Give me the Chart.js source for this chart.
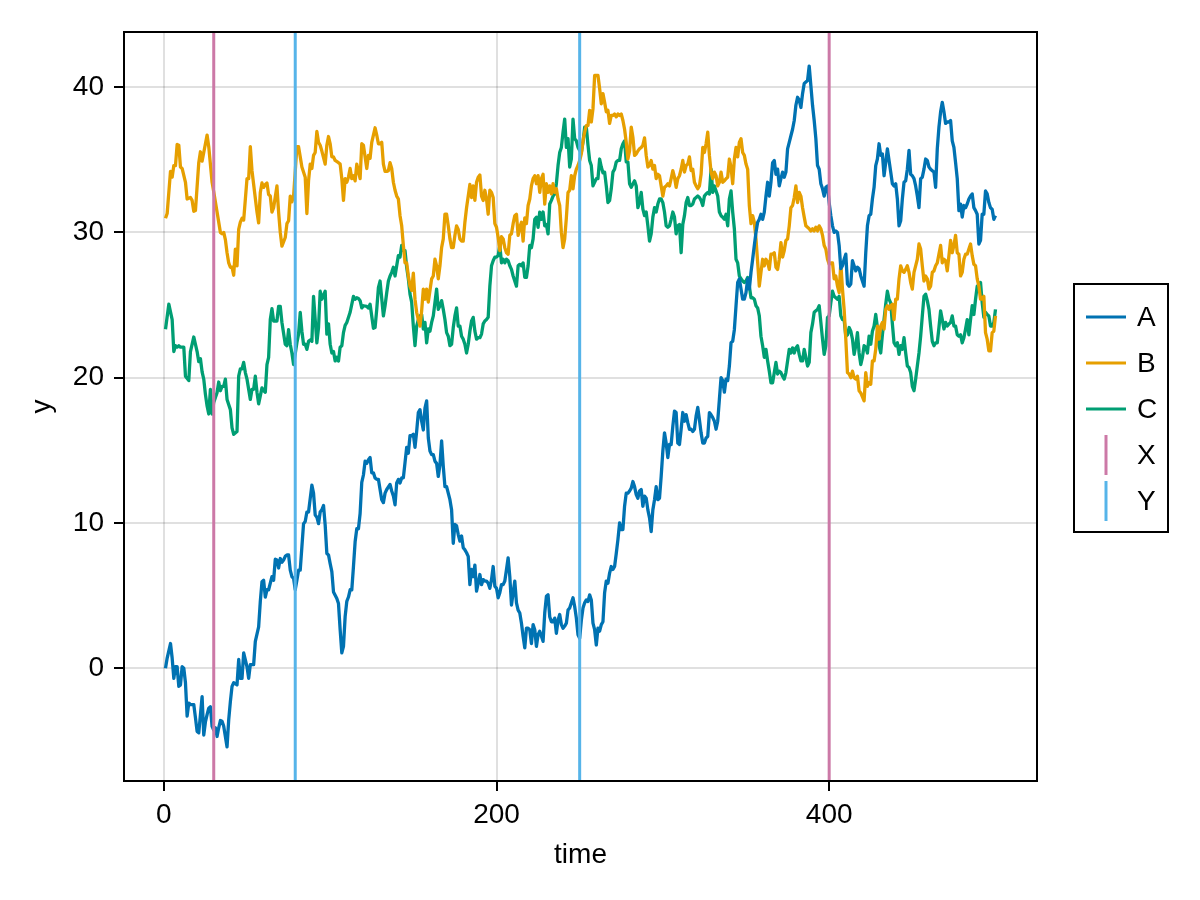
<!DOCTYPE html>
<html>
<head>
<meta charset="utf-8">
<script src="https://cdn.jsdelivr.net/npm/chart.js@4.4.1/dist/chart.umd.min.js"></script>
<style>
  html, body { margin: 0; padding: 0; background: #fff; }
  #wrap { width: 1200px; height: 900px; }
</style>
</head>
<body>
<div id="wrap"><canvas id="myChart" width="1200" height="900"></canvas></div>
<script>
// values, [time, value]
const seriesA = [
  [1,0.0],[2,0.7],[4,1.7],[5,0.7],[6,-0.7],[7,0.1],[8,0.1],[9,-1.25],[10,-1.15],[11,0.1],[12,0.0],[13,-1.0],[14,-3.3],[15,-2.4],[16,-2.5],[18,-2.5],[19,-3.4],[20,-4.35],[21,-4.45],[23,-1.95],[24,-4.6],[25,-3.7],[26,-3.2],[27,-2.75],[28,-2.65],[29,-4.0],[30,-4.25],[31,-4.1],[32,-4.7],[33,-4.1],[34,-3.6],[35,-3.65],[36,-4.0],[38,-5.42],[39,-3.55],[40,-2.3],[41,-1.25],[42,-1.0],[44,-1.15],[45,0.6],[46,-0.7],[47,-0.7],[48,1.05],[50,0.1],[51,-0.7],[52,0.25],[54,0.25],[55,1.85],[57,2.85],[58,4.6],[59,5.95],[60,6.05],[61,4.9],[62,5.4],[63,5.4],[65,6.3],[66,6.05],[67,7.5],[68,7.45],[69,6.9],[70,7.55],[71,7.3],[72,7.45],[73,7.7],[74,7.8],[75,7.8],[76,6.75],[77,6.3],[78,6.2],[79,5.4],[80,6.05],[81,6.75],[82,6.75],[83,8.35],[84,9.95],[85,10.1],[86,10.75],[87,10.75],[89,12.6],[90,12.05],[91,10.55],[92,10.4],[93,9.95],[94,10.75],[95,10.9],[96,11.2],[97,9.85],[98,7.9],[99,7.8],[100,7.2],[101,6.65],[102,5.25],[104,4.8],[105,4.45],[106,2.65],[107,1.05],[108,1.5],[109,3.55],[110,4.6],[111,4.9],[112,5.4],[113,5.4],[114,7.0],[115,8.7],[116,9.6],[117,9.6],[118,10.65],[119,12.8],[120,13.3],
  [121,14.25],[122,14.1],[123,14.35],[124,14.5],[125,13.45],[126,13.45],[127,13.1],[128,13.0],[129,13.0],[130,12.3],[131,11.6],[132,11.4],[133,12.05],[134,12.3],[136,12.65],[137,12.2],[138,11.85],[139,11.25],[140,12.75],[141,13.0],[142,12.75],[143,13.1],[144,13.1],[145,14.15],[146,15.2],[147,14.8],[148,16.0],[149,16.0],[150,16.1],[151,15.2],[152,16.3],[153,17.6],[154,17.8],[155,17.0],[156,16.4],[157,17.9],[158,18.4],[159,15.85],[160,14.95],[161,14.7],[162,14.7],[163,14.25],[164,14.1],[165,13.2],[166,14.0],[167,15.65],[168,13.9],[169,12.5],[170,12.5],[171,12.05],[172,11.6],[173,10.9],[174,8.6],[175,9.9],[176,9.8],[177,9.2],[178,8.75],[179,9.1],[180,8.3],[181,8.15],[182,7.95],[183,7.7],[184,5.75],[185,6.8],[186,6.3],[187,7.1],[188,5.3],[189,5.85],[190,6.45],[191,5.75],[192,6.1],[193,6.0],[194,6.0],[195,5.85],[196,5.5],[197,6.1],[198,7.0],[199,5.65],[200,5.5],[201,4.85],[202,5.2],[203,5.75],[204,5.75],[205,6.0],[206,6.8],[207,7.6],[208,6.3],[209,4.35],[210,5.2],[211,6.0],[212,4.5],[213,4.0],[214,3.8],[215,3.1],[216,2.2],[217,1.4],[218,2.75],[219,2.75],[220,2.65],[221,1.7],[222,3.0],[223,2.65],[224,1.5],[225,2.3],[226,2.55],[227,2.2],[228,1.85],[229,3.8],[230,4.95],[231,5.05],[232,3.55],[233,3.2],[234,3.2],[235,3.45],[236,2.4],[237,3.3],[238,3.7],[239,3.0],[240,2.75],[241,2.9],[242,3.1],[243,4.0],[244,4.15],[245,4.5],[246,4.85],[247,4.25],[248,3.45],[249,2.3],[250,2.05],[251,3.3],[252,4.15],[253,4.5],[254,4.7],[255,4.6],[256,5.05],[257,4.7],[258,3.1],[259,2.65],[260,1.6],[261,2.75],[262,2.55],[263,3.0],[264,3.2],
  [265,5.2],[266,6.0],[267,5.85],[268,6.55],[269,7.0],[270,6.8],[271,7.0],[272,7.9],[273,8.85],[274,10.0],[275,9.55],[276,9.55],[277,11.15],[278,12.05],[279,12.05],[280,12.2],[281,12.4],[282,12.85],[283,12.5],[284,11.95],[285,11.7],[286,12.2],[287,12.3],[288,11.15],[289,11.85],[290,11.7],[291,10.9],[292,10.35],[293,9.4],[294,10.9],[295,11.6],[296,12.5],[297,11.6],[298,11.7],[299,13.2],[300,14.95],[301,16.2],[302,15.5],[303,14.5],[304,15.4],[305,15.4],[306,16.65],[307,17.7],[308,17.6],[309,15.5],[310,15.4],[311,16.45],[312,17.6],[313,17.0],[314,17.45],[315,16.9],[316,16.45],[317,16.45],[318,16.3],[319,16.45],[320,17.35],[321,17.95],[322,17.1],[323,16.2],[324,15.5],[325,15.5],[326,15.85],[327,15.95],[328,17.6],[329,17.45],[330,17.25],[331,17.0],[332,16.45],[333,17.0],[334,18.5],[335,20.0],
  [336,19.8],[337,19.0],[338,19.9],[339,19.8],[340,20.8],[341,22.4],[342,22.5],[343,23.3],[344,24.95],[345,26.55],[346,26.8],[347,26.1],[348,25.4],[349,25.4],[350,25.85],[351,26.8],[352,26.1],[353,27.25],[354,28.15],[355,29.1],[356,30.0],[357,30.7],[358,30.9],[359,31.25],[360,30.9],[361,31.4],[362,32.5],[363,33.45],[364,32.5],[365,33.45],[366,34.8],[367,34.95],[368,34.0],[369,34.35],[370,33.2],[371,33.7],[372,34.15],[373,33.8],[374,34.15],[375,35.75],[376,36.2],[377,36.65],[378,37.1],[379,37.7],[380,38.75],[381,39.3],[382,39.1],[383,38.6],[384,39.55],[385,40.25],[386,40.35],[387,40.45],[388,41.45],[389,40.1],[390,38.75],[391,37.7],[392,36.45],[393,34.6],[394,34.35],[395,33.35],[396,33.0],[397,32.5],[398,33.1],[399,33.2],[400,32.05],[401,31.15],[402,30.45],
  [403,30.0],[404,30.1],[405,30.0],[406,29.1],[407,27.5],[408,27.7],[409,28.15],[410,28.5],[411,26.45],[412,26.3],[413,26.45],[414,28.05],[415,27.7],[416,27.35],[417,27.6],[418,27.5],[419,27.0],[421,26.3],[422,28.6],[423,30.45],[424,31.15],[425,31.25],[426,32.3],[427,33.1],[428,34.6],[429,35.05],[430,36.1],[431,35.3],[432,35.4],[433,33.9],[434,34.8],[435,35.75],[436,34.95],[437,34.15],[438,33.35],[439,33.2],[440,33.35],[441,32.3],[442,30.45],[443,30.8],[444,32.3],[445,33.45],[446,33.55],[447,34.35],[448,35.65],[449,34.0],[450,33.9],[451,33.7],[452,33.2],[453,32.5],[454,31.7],[455,33.7],[456,33.8],[457,34.35],[458,35.05],[459,34.95],[460,34.5],[461,34.35],[462,34.25],[463,34.15],[464,33.1],[465,35.75],[466,37.25],[467,38.3],[468,38.95],[469,38.3],[470,37.5],[471,37.6],[472,37.6],[473,37.7],[474,36.3],[475,35.85],[476,34.8],[477,33.7],[478,31.5],[479,31.95],[480,31.05],[481,31.85],[482,31.7],[483,31.95],[484,32.3],[485,32.5],[486,32.65],[487,31.7],[488,31.5],[489,31.25],[490,29.2],[491,29.45],[492,31.25],[493,31.25],[494,32.85],[495,32.65],[496,32.05],[497,31.7],[498,31.6],[499,30.9],[500,31.15]
];
const seriesB = [
  [1,30.97],[2,31.3],[4,34.2],[5,33.8],[6,34.6],[7,34.6],[8,36.05],[9,36.0],[10,34.5],[11,34.4],[13,33.45],[14,32.3],[16,32.4],[17,32.2],[18,31.45],[19,31.5],[21,34.8],[22,35.55],[23,34.9],[24,35.5],[26,36.7],[27,35.9],[29,33.45],[30,32.8],[32,31.4],[34,30.0],[35,29.9],[36,30.0],[37,29.5],[38,28.6],[39,27.9],[40,27.6],[41,27.6],[42,27.05],[43,28.85],[44,27.7],[45,30.2],[46,30.7],[47,30.97],[48,30.85],[50,33.7],[51,33.7],[52,35.9],[53,34.25],[54,33.3],[56,31.4],[57,30.65],[58,32.75],[59,33.4],[60,33.1],[61,33.3],[62,33.4],[63,32.6],[64,32.5],[65,31.4],[66,31.7],[68,33.2],[69,31.4],[70,30.0],[71,29.05],[73,29.65],[74,30.6],[75,30.8],[76,32.5],[77,32.1],[78,32.5],[80,35.9],[81,35.9],[82,35.2],[83,34.5],[85,33.8],[86,31.3],[87,33.55],[88,34.7],[89,34.4],[90,35.3],[91,35.5],[92,36.95],[93,36.2],[94,36.0],[95,35.6],[97,34.7],[98,36.0],[99,36.6],[100,36.1],[101,35.2],[102,35.2],[103,34.95],[105,34.8],[106,34.7],[107,33.7],[108,32.2],[109,33.7],[110,33.45],[111,33.8],[112,34.4],[113,33.7],[114,33.9],[115,33.55],[116,34.7],[118,33.7],[119,36.1],
  [120,36.0],[122,34.4],[123,35.3],[124,35.1],[125,36.2],[127,37.2],[128,36.7],[129,36.1],[130,36.1],[131,36.2],[132,34.7],[133,34.2],[134,34.2],[135,34.25],[136,34.8],[137,34.4],[138,33.45],[139,32.9],[140,32.5],[141,32.3],[142,31.15],[143,30.45],[144,29.1],[145,27.9],[146,27.9],[147,27.0],[148,26.3],[149,26.0],[150,27.2],[151,25.4],[152,24.5],[153,24.0],[154,23.55],[155,24.6],[156,26.1],[157,25.4],[158,26.1],[159,25.2],[160,26.0],[161,26.8],[162,27.0],[163,28.15],[164,27.7],[165,26.8],[166,27.7],[167,28.95],[168,29.55],[169,31.25],[170,31.25],[171,30.45],[172,29.55],[173,28.95],[174,28.95],[175,29.8],[176,30.45],[177,30.2],[178,29.55],[179,29.4],[180,29.4],[181,30.7],[182,31.7],[184,33.3],[185,32.4],[186,33.2],[187,32.2],[188,33.45],[189,33.8],[190,33.95],[191,32.5],[192,32.2],[193,32.9],[194,32.3],[195,31.25],[196,32.9],[197,32.75],[198,32.4],[199,30.6],[200,30.35],[201,29.65],[202,28.75],[203,29.7],[204,29.55],[205,28.95],[206,28.6],[207,28.5],[208,29.8],[209,29.9],[210,30.6],[211,31.15],[212,31.25],[213,29.8],[214,30.35],[215,30.7],[216,29.4],[217,31.0],[218,30.6],[219,31.85],[220,32.3],[221,33.2],[222,33.7],[223,33.9],[224,33.35],[225,33.9],[226,32.75],[227,33.7],[228,34.0],[229,31.95],[230,33.35],[231,32.75],[232,33.2],[233,32.65],[234,33.35],[235,32.75],[236,33.0],[237,32.3],[238,31.85],[239,30.0],[240,28.95],[241,29.55],[242,31.0],[243,32.75],[244,32.9],[245,33.9],[246,33.0],[247,33.9],[248,34.35],[249,34.6],[250,34.95],[251,35.4],[252,36.3],[253,36.9],[254,37.35],[255,37.35],[256,38.4],[257,37.6],[258,38.5],[259,40.8],[261,40.8],[262,39.9],[263,38.85],
  [264,39.55],[265,38.95],[266,38.3],[267,38.4],[268,37.5],[269,38.05],[270,38.05],[271,38.15],[272,37.95],[273,38.15],[274,38.05],[275,38.15],[276,37.7],[277,37.1],[278,36.2],[279,35.05],[280,35.6],[281,37.25],[282,36.55],[283,35.3],[284,35.4],[285,35.6],[286,35.75],[287,35.85],[288,36.0],[289,36.5],[290,35.3],[291,34.5],[292,34.6],[293,34.95],[294,34.35],[295,34.6],[296,33.7],[297,34.0],[298,33.9],[299,33.2],[300,32.5],[301,33.1],[302,33.2],[303,33.35],[304,33.2],[305,33.7],[306,34.25],[307,33.8],[308,33.1],[309,33.7],[310,33.9],[311,34.35],[312,34.95],[313,34.15],[314,34.6],[315,34.7],[316,35.2],[317,34.25],[318,34.35],[319,33.45],[320,33.2],[321,33.0],[322,33.2],[323,34.0],[324,35.85],[325,35.5],[326,36.1],[327,36.9],[328,35.3],[329,34.15],[330,33.7],[331,34.15],[332,33.9],[333,33.2],[334,33.45],[335,34.15],[336,33.45],[337,33.55],[338,33.7],[339,33.8],[340,35.05],[341,34.5],[342,33.35],[343,35.05],[344,35.85],[345,35.2],[346,36.2],[347,36.45],[348,35.5],[349,35.3],[350,34.7],[351,34.35],[352,31.85],[353,30.6],[354,31.15],[355,30.7],[356,29.55],[357,27.95],[358,26.3],[359,27.25],[360,28.15],[361,27.7],[362,28.15],[363,27.95],[364,27.45],[365,28.5],[366,28.5],[367,28.6],[368,27.6],[369,27.45],[370,28.15],[371,29.3],[372,28.3],[373,28.75],[374,29.45],[375,29.55],[376,30.45],[377,31.7],[378,31.85],[379,32.4],[380,33.2],[381,32.05],[382,32.75],[383,32.5],[384,31.7],[385,31.05],[386,30.45],[387,30.35],[388,30.25],[389,30.1],[390,30.25],[391,30.1],[392,30.35],[393,30.1],[394,30.45],[395,30.25],[396,29.8],[397,29.1],[398,28.85],[399,28.15],[400,27.8],[401,27.9],[402,27.9],
  [403,26.8],[404,27.0],[405,26.3],[406,25.85],[407,27.9],[408,26.1],[409,24.7],[410,22.65],[411,20.35],[412,20.25],[413,20.0],[414,20.45],[415,20.0],[416,19.9],[417,20.1],[418,19.1],[419,18.95],[421,18.4],[422,20.35],[423,19.4],[424,19.65],[425,19.55],[426,21.15],[427,21.15],[428,21.95],[429,23.55],[430,22.65],[431,23.55],[432,23.8],[433,23.35],[434,24.7],[435,24.95],[436,24.7],[437,24.95],[438,25.05],[439,24.0],[440,25.4],[441,25.4],[442,26.8],[443,27.7],[444,27.35],[445,27.25],[446,27.45],[447,27.7],[448,27.25],[449,26.55],[450,26.1],[451,27.25],[452,27.7],[453,28.15],[454,29.2],[455,28.85],[456,27.7],[457,26.65],[458,27.0],[459,26.8],[460,26.1],[461,26.3],[462,27.25],[463,27.35],[464,27.7],[465,27.9],[466,28.5],[467,29.1],[468,27.9],[469,28.15],[470,28.05],[471,27.35],[472,28.4],[473,29.45],[474,28.6],[475,29.1],[476,29.8],[477,28.6],[478,28.5],[479,27.0],[480,27.25],[481,28.15],[482,28.5],[483,28.5],[484,28.85],[485,29.2],[486,28.4],[487,27.8],[488,27.7],[489,26.8],[490,26.3],[491,25.4],[492,25.4],[493,25.6],[494,23.1],[495,22.65],[496,21.85],[497,21.85],[498,23.1],[499,23.2],[500,24.25]
];
const seriesC = [
  [1,23.33],[3,25.06],[5,24.0],[6,21.8],[7,22.2],[8,22.1],[9,22.2],[10,22.1],[12,22.1],[13,20.1],[15,19.8],[16,21.8],[18,22.8],[19,22.3],[20,21.8],[21,21.1],[22,21.3],[23,20.4],[24,19.9],[25,18.85],[26,18.05],[27,17.5],[28,19.2],[29,17.5],[30,18.3],[32,18.97],[33,19.7],[34,19.1],[35,19.4],[36,19.4],[37,19.9],[38,18.5],[40,17.8],[41,16.55],[42,16.1],[44,16.3],[45,20.1],[46,20.6],[47,20.6],[48,21.05],[49,20.35],[50,19.9],[52,18.5],[53,19.2],[54,19.2],[55,20.1],[56,19.0],[57,18.2],[58,18.75],[59,19.3],[60,19.1],[61,19.0],[62,20.9],[63,21.4],[64,24.0],[65,24.75],[66,23.9],[68,23.9],[69,24.9],[70,24.9],[71,23.8],[73,22.3],[74,22.2],[75,23.3],[76,22.3],[77,21.7],[78,20.9],[80,22.4],[81,23.0],[82,24.5],[83,23.2],[84,22.3],[85,22.3],[86,21.95],[87,22.5],[88,22.6],[89,22.5],[90,25.6],[92,22.4],[93,23.45],[94,25.95],[95,25.4],[97,25.95],[98,23.0],[99,23.7],[100,22.3],[101,21.7],[102,21.8],[103,21.15],[104,21.4],[105,21.15],[106,22.1],[107,22.2],[108,23.1],[109,23.6],[110,23.8],[112,24.5],[114,25.6],[115,25.4],[116,25.5],[117,25.45],[118,25.3],[119,24.8],
  [120,24.95],[122,24.9],[123,24.8],[124,25.05],[126,23.4],[127,23.45],[128,24.7],[129,26.2],[130,26.65],[132,24.25],[133,24.95],[134,25.85],[135,26.65],[136,27.0],[137,27.25],[138,27.6],[139,27.0],[140,27.7],[141,28.4],[142,28.3],[143,29.1],[144,28.75],[145,28.75],[146,27.6],[147,26.8],[148,25.75],[149,25.2],[150,23.55],[151,22.2],[152,23.55],[153,24.0],[154,24.25],[155,24.35],[156,23.35],[157,23.8],[158,22.4],[159,23.35],[160,23.2],[161,23.8],[162,24.25],[164,26.1],[165,24.7],[166,24.95],[167,25.3],[168,24.7],[169,24.0],[170,23.1],[171,22.85],[172,22.2],[173,22.3],[174,23.45],[175,24.25],[176,24.8],[177,23.55],[178,23.55],[179,22.85],[180,22.65],[181,22.3],[182,21.7],[183,22.3],[184,23.2],[185,23.9],[186,24.15],[187,23.2],[188,22.65],[189,22.75],[190,22.75],[191,23.0],[192,23.7],[193,23.9],[194,24.0],[195,24.15],[196,26.3],[197,27.7],[198,28.05],[199,28.3],[200,28.3],[201,28.4],[202,29.1],[203,27.9],[204,28.15],[205,27.9],[206,28.15],[207,28.05],[208,27.7],[209,27.45],[210,27.0],[212,26.3],[213,27.7],[214,27.8],[215,27.7],[216,27.9],[217,26.9],[218,26.9],[219,27.7],[220,29.1],[221,28.95],[222,29.55],[223,30.9],[224,31.05],[225,30.35],[226,31.4],[227,30.9],[228,31.4],[229,30.45],[230,30.55],[231,29.9],[232,31.95],[233,32.2],[234,32.5],[235,32.65],[236,33.35],[237,34.6],[238,35.5],[239,35.85],[240,36.9],[241,37.8],[242,35.85],[243,36.45],[244,34.5],[245,35.05],[246,37.8],[247,36.45],[248,36.3],[249,35.85],[250,35.65],[251,35.5],[252,36.2],[253,37.25],[254,37.25],[255,36.0],[256,34.95],[257,34.6],[258,33.2],[260,33.7],[261,33.7],[262,35.05],[263,34.5],[264,34.1],
  [265,34.15],[266,33.2],[267,32.05],[268,32.2],[269,33.0],[270,34.15],[271,34.35],[272,34.85],[273,34.95],[274,34.95],[275,35.75],[276,36.1],[277,36.3],[278,34.85],[279,34.85],[280,33.35],[281,33.1],[282,33.35],[283,33.55],[284,33.2],[285,31.7],[286,32.05],[287,32.75],[288,31.6],[289,31.15],[290,31.4],[291,30.45],[292,29.4],[293,29.9],[294,31.05],[295,31.7],[296,31.4],[297,31.95],[298,32.3],[299,32.3],[300,32.05],[301,31.4],[302,30.45],[303,30.35],[304,30.45],[305,30.9],[306,31.4],[307,31.05],[308,29.9],[309,30.45],[310,30.55],[311,28.6],[312,30.55],[313,31.15],[314,32.05],[315,32.4],[316,31.85],[317,31.85],[318,31.95],[319,32.3],[320,32.4],[321,32.5],[322,32.4],[323,32.2],[324,31.85],[325,32.5],[326,32.65],[327,32.75],[328,32.65],[329,34.35],[330,32.75],[331,33.2],[332,32.85],[333,32.5],[334,31.4],[335,31.15],[336,31.05],[337,30.9],[338,31.25],[339,30.45],[340,32.3],[341,32.85],[342,31.4],[343,30.25],[344,28.15],[345,27.9],[346,27.0],[347,26.8],[348,26.65],[349,26.55],[350,26.65],[351,26.9],[352,26.3],[353,25.5],[354,25.5],[355,25.4],[356,24.95],[357,24.8],[358,24.25],[359,22.85],[360,22.2],[361,21.4],[362,21.95],[363,21.15],[364,20.45],[365,19.65],[366,19.65],[367,20.35],[368,21.05],[369,20.25],[370,20.45],[371,20.35],[372,20.1],[373,19.9],[374,20.35],[375,21.15],[376,21.95],[377,21.7],[378,22.05],[379,21.7],[380,22.05],[381,22.2],[382,21.6],[383,21.15],[384,21.15],[385,21.95],[386,21.4],[387,20.8],[388,21.05],[389,23.1],[390,23.7],[391,24.5],[392,24.6],[393,24.7],[394,24.95],[395,23.8],[396,22.65],[397,21.6],[398,22.2],[399,24.15],[400,24.25],[401,25.15],[402,25.95],
  [403,25.6],[404,25.5],[405,25.4],[406,25.6],[407,24.25],[408,24.0],[409,24.0],[410,22.85],[411,22.95],[412,23.45],[413,23.2],[414,22.65],[415,21.6],[416,22.2],[417,23.1],[418,21.7],[419,20.9],[420,21.4],[421,22.2],[422,22.1],[423,21.7],[424,22.85],[425,22.3],[426,23.2],[427,23.55],[428,24.35],[429,23.45],[430,22.2],[431,21.7],[432,22.95],[433,24.0],[434,25.05],[435,25.95],[436,25.4],[437,25.15],[438,23.7],[439,22.4],[440,22.2],[441,22.4],[442,21.6],[443,22.2],[444,21.95],[445,22.75],[446,21.7],[447,20.8],[448,20.7],[449,20.35],[450,19.4],[451,19.1],[452,19.9],[453,20.8],[454,21.7],[455,22.85],[456,24.25],[457,25.6],[458,25.75],[459,25.3],[460,24.7],[461,23.55],[462,22.5],[463,22.2],[464,22.4],[465,22.4],[466,23.45],[467,24.6],[468,24.0],[469,23.35],[470,23.8],[471,23.55],[472,23.7],[473,23.8],[474,24.25],[475,23.55],[476,23.55],[477,22.95],[478,22.85],[479,22.95],[480,22.4],[481,22.75],[482,23.35],[483,24.0],[484,22.95],[485,24.0],[486,24.95],[487,24.35],[488,25.4],[489,26.3],[490,26.2],[491,26.55],[492,25.15],[493,24.15],[494,24.5],[495,24.35],[496,24.25],[497,23.55],[498,23.55],[499,23.8],[500,24.7]
];
const markX = [30, 400];       // vertical lines "X"
const markY = [79, 250];       // vertical lines "Y"
const xTicks = [0, 200, 400];
const yTicks = [0, 10, 20, 30, 40];
const seriesNames = ['A', 'B', 'C'];
const markNames = ['X', 'Y'];
const seriesColors = ['#0072B2', '#E69F00', '#009E73'];
const markColors = ['#CC79A7', '#56B4E9'];

const FONT = '"Liberation Sans", Arial, Helvetica, sans-serif';

// axis limits like the original: data extent plus 5% each side
function padLimits(vals) {
  const lo = Math.min(...vals), hi = Math.max(...vals);
  const m = (hi - lo) * 0.05;
  return [lo - m, hi + m];
}
const allPts = seriesA.concat(seriesB, seriesC);
const [xMin, xMax] = padLimits(allPts.map(p => p[0]));
const [yMin, yMax] = padLimits(allPts.map(p => p[1]));

const vlinePlugin = {
  id: 'vlines',
  afterDatasetsDraw(chart) {
    const { ctx, chartArea: a, scales: { x } } = chart;
    ctx.save();
    ctx.beginPath();
    ctx.rect(a.left, a.top, a.right - a.left, a.bottom - a.top);
    ctx.clip();
    ctx.lineWidth = 3;
    [markX, markY].forEach((vals, i) => {
      ctx.strokeStyle = markColors[i];
      vals.forEach(v => {
        const px = x.getPixelForValue(v);
        ctx.beginPath();
        ctx.moveTo(px, a.top);
        ctx.lineTo(px, a.bottom);
        ctx.stroke();
      });
    });
    ctx.restore();
  }
};

const framePlugin = {
  id: 'frame',
  afterDraw(chart) {
    const { ctx, chartArea: a } = chart;
    ctx.save();
    ctx.strokeStyle = '#000';
    ctx.lineWidth = 2;
    ctx.strokeRect(a.left, a.top, a.right - a.left, a.bottom - a.top);
    ctx.restore();
  }
};

// boxed legend at the right, lines for series and short upright bars for the marks
const legendPlugin = {
  id: 'sideLegend',
  afterDraw(chart) {
    const { ctx, chartArea: a } = chart;
    const items = seriesNames.map((n, i) => ({ n, c: seriesColors[i], vert: false }))
      .concat(markNames.map((n, i) => ({ n, c: markColors[i], vert: true })));
    const rowH = 46, pad = 32, boxW = 94;
    const boxH = pad * 2 + rowH * (items.length - 1);
    const left = a.right + 37;
    const top = (a.top + a.bottom) / 2 - boxH / 2 + 1.5;
    ctx.save();
    ctx.strokeStyle = '#000';
    ctx.lineWidth = 2;
    ctx.strokeRect(left, top, boxW, boxH);
    ctx.font = '28px ' + FONT;
    ctx.textBaseline = 'middle';
    ctx.textAlign = 'left';
    items.forEach((it, i) => {
      const y = top + pad + 1 + i * rowH;
      ctx.strokeStyle = it.c;
      ctx.lineWidth = 3;
      ctx.beginPath();
      if (it.vert) {
        ctx.moveTo(left + 32, y - 20);
        ctx.lineTo(left + 32, y + 20);
      } else {
        ctx.moveTo(left + 12, y);
        ctx.lineTo(left + 52, y);
      }
      ctx.stroke();
      ctx.fillStyle = '#000';
      ctx.fillText(it.n, left + 63, y + 1);
    });
    ctx.restore();
  }
};

Chart.defaults.font.family = FONT;
Chart.defaults.font.size = 28;
Chart.defaults.color = '#000';

const gridOpts = {
  color: 'rgba(0,0,0,0.12)',
  lineWidth: 2,
  tickColor: '#000',
  tickWidth: 2,
  tickLength: 10
};

new Chart(document.getElementById('myChart'), {
  type: 'line',
  data: {
    datasets: [seriesA, seriesB, seriesC].map((d, i) => ({
      label: seriesNames[i],
      data: d,
      borderColor: seriesColors[i],
      backgroundColor: seriesColors[i],
      borderWidth: 3.3,
      borderJoinStyle: 'round',
      pointRadius: 0,
      tension: 0,
      fill: false
    }))
  },
  options: {
    responsive: false,
    animation: false,
    devicePixelRatio: 1,
    layout: { padding: { left: 0, right: 163, top: 32, bottom: 0 } },
    plugins: { legend: { display: false }, tooltip: { enabled: false } },
    scales: {
      x: {
        type: 'linear',
        bounds: 'data',
        min: xMin,
        max: xMax,
        afterBuildTicks: s => { s.ticks = xTicks.map(v => ({ value: v })); },
        afterFit: s => { s.height = 119; },
        grid: gridOpts,
        border: { display: false },
        ticks: { padding: 7, maxRotation: 0 },
        title: { display: true, text: 'time', padding: { top: 0, bottom: 28 } }
      },
      y: {
        type: 'linear',
        bounds: 'data',
        min: yMin,
        max: yMax,
        afterBuildTicks: s => { s.ticks = yTicks.map(v => ({ value: v })); },
        afterFit: s => { s.width = 124; },
        grid: gridOpts,
        border: { display: false },
        ticks: { padding: 10 },
        title: { display: true, text: 'y', padding: { top: 25, bottom: 0 } }
      }
    }
  },
  plugins: [vlinePlugin, framePlugin, legendPlugin]
});
</script>
</body>
</html>
